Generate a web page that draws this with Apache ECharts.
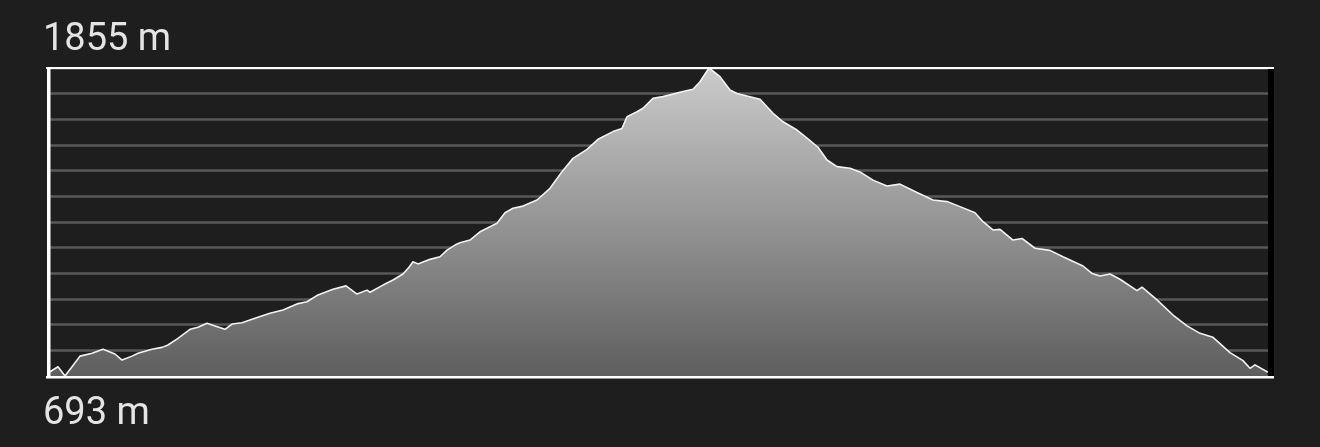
<!DOCTYPE html>
<html>
<head>
<meta charset="utf-8">
<script src="https://cdn.jsdelivr.net/npm/echarts@6/dist/echarts.min.js"></script>
<style>
html,body{margin:0;padding:0;background:#1e1e1e;}
#chart{width:1320px;height:447px;}
</style>
</head>
<body>
<div id="chart"></div>
<script>
// distance along the route (km) and elevation (m)
const distanceKm = [0.00,0.08,0.15,0.22,0.30,0.42,0.53,0.65,0.72,0.82,0.88,1.02,1.12,1.18,1.28,1.40,1.48,1.57,1.65,1.75,1.82,1.92,2.05,2.20,2.33,2.47,2.57,2.68,2.83,2.96,3.07,3.17,3.20,3.33,3.43,3.53,3.59,3.63,3.68,3.80,3.90,3.97,4.05,4.10,4.20,4.30,4.47,4.55,4.63,4.73,4.87,5.00,5.12,5.23,5.37,5.48,5.63,5.72,5.77,5.87,5.93,6.03,6.13,6.33,6.43,6.50,6.59,6.70,6.80,6.87,6.97,7.10,7.23,7.33,7.47,7.57,7.68,7.77,7.87,8.00,8.10,8.23,8.37,8.50,8.67,8.83,8.97,9.10,9.25,9.33,9.43,9.50,9.63,9.72,9.85,10.00,10.13,10.33,10.42,10.50,10.60,10.70,10.87,10.92,11.07,11.23,11.37,11.50,11.63,11.80,11.93,12.00,12.05,12.17,12.18];
const elevationM = [709,728,693,728,768,779,794,776,753,768,779,794,801,810,835,869,877,892,882,869,889,894,911,930,942,965,973,999,1020,1033,1002,1017,1009,1036,1055,1078,1103,1124,1116,1133,1143,1168,1187,1196,1206,1237,1269,1309,1326,1334,1357,1401,1464,1514,1548,1586,1615,1627,1671,1690,1703,1741,1747,1766,1775,1803,1855,1822,1772,1759,1749,1737,1684,1652,1621,1590,1556,1508,1483,1477,1463,1432,1410,1417,1385,1357,1351,1332,1309,1275,1244,1246,1206,1212,1175,1167,1143,1108,1080,1070,1078,1058,1015,1028,980,923,882,854,839,781,751,722,735,709,708];
const minLabel = '693 m';
const maxLabel = '1855 m';
const minElev = 693;
const maxElev = 1855;
const gridBands = 12;

const chart = echarts.init(document.getElementById('chart'), null, {renderer: 'canvas'});
const option = {
  backgroundColor: '#1e1e1e',
  animation: false,
  grid: {left: 50, right: 52, top: 68, bottom: 71, containLabel: false},
  xAxis: {
    type: 'value', min: 0, max: distanceKm[distanceKm.length - 1],
    show: false
  },
  yAxis: [
    {type: 'value', min: minElev, max: maxElev, show: false},
    {
      type: 'value', min: 0, max: gridBands, interval: 1,
      axisLine: {show: false}, axisTick: {show: false}, axisLabel: {show: false},
      splitLine: {show: true, lineStyle: {color: '#585858', width: 2.5}}
    }
  ],
  series: [{
    type: 'line',
    yAxisIndex: 0,
    data: distanceKm.map((d, i) => [d, elevationM[i]]),
    symbol: 'none',
    smooth: false,
    lineStyle: {color: '#f2f2f2', width: 1.6},
    areaStyle: {
      opacity: 1,
      color: {
        type: 'linear', x: 0, y: 68, x2: 0, y2: 376, global: true,
        colorStops: [{offset: 0, color: '#cbcbcb'}, {offset: 1, color: '#5e5e5e'}]
      }
    },
    z: 3
  }],
  graphic: [
    {type: 'rect', z: 100, shape: {x: 46, y: 67, width: 1228, height: 2}, style: {fill: '#ffffff'}},
    {type: 'rect', z: 100, shape: {x: 46, y: 376, width: 1228, height: 2.5}, style: {fill: '#ffffff'}},
    {type: 'rect', z: 100, shape: {x: 47, y: 67, width: 3.5, height: 311}, style: {fill: '#ffffff'}},
    {type: 'rect', z: 100, shape: {x: 1268, y: 69, width: 6, height: 307}, style: {fill: '#000000'}},
    {type: 'text', z: 100, left: 43, top: 21, style: {text: maxLabel, fill: '#e4e4e4', font: '38px Roboto, "Noto Sans", sans-serif'}},
    {type: 'text', z: 100, left: 43, top: 395, style: {text: minLabel, fill: '#e4e4e4', font: '38px Roboto, "Noto Sans", sans-serif'}}
  ]
};
chart.setOption(option);
</script>
</body>
</html>
